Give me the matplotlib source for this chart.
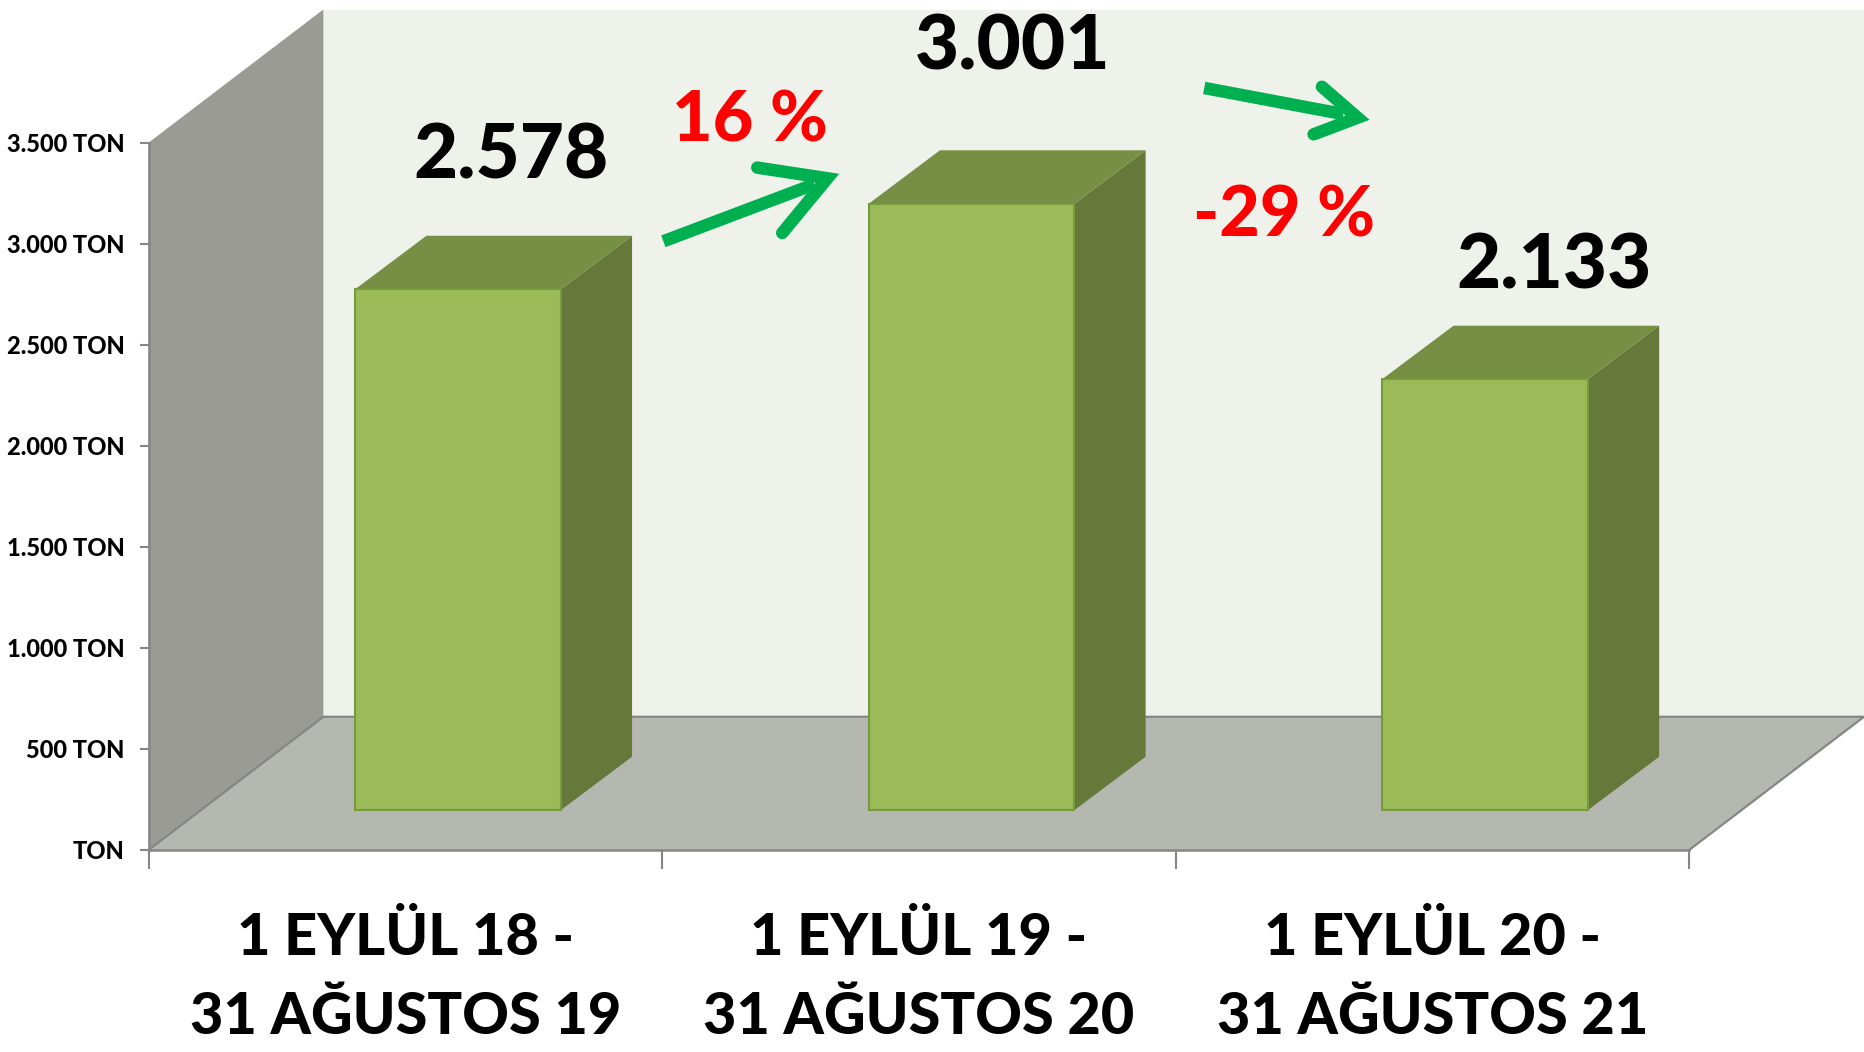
import matplotlib.pyplot as plt
from matplotlib.patches import Polygon
from matplotlib.transforms import Affine2D

categories = ["1 EYLÜL 18 -\n31 AĞUSTOS 19", "1 EYLÜL 19 -\n31 AĞUSTOS 20", "1 EYLÜL 20 -\n31 AĞUSTOS 21"]
values = [2578, 3001, 2133]
y_ticks = [0, 500, 1000, 1500, 2000, 2500, 3000, 3500]
y_labels = ["TON", "500 TON", "1.000 TON", "1.500 TON", "2.000 TON", "2.500 TON", "3.000 TON", "3.500 TON"]
change_labels = ["16 %", "-29 %"]

plt.rcParams['font.family'] = ['Lato', 'DejaVu Sans']

W, H = 1568, 885  # layout numbers below
fig = plt.figure(figsize=(18.64, 10.52), dpi=100)
ax = fig.add_axes([125/W, 1-715/H, (1421-125)/W, (715-120)/H])
ax.set_xlim(0, 3)
ax.set_ylim(0, 3500)
ax.patch.set_visible(False)

# reference pixels -> figure, for the labels and arrows put on by hand
px = Affine2D().scale(1/W, -1/H).translate(0, 1) + fig.transFigure

# walls and floor
wall_dx, wall_dy = 147/432, 112/0.17
grey = '#868686'
def poly(points, color, edge='none', lw=0, z=1):
    ax.add_patch(Polygon(points, closed=True, facecolor=color, edgecolor=edge, linewidth=lw, zorder=z, clip_on=False))

poly([(wall_dx, wall_dy), (wall_dx, 3500+wall_dy), (3+wall_dx, 3500+wall_dy), (3+wall_dx, wall_dy)], '#EFF2EB')
poly([(0, 0), (0, 3500), (wall_dx, 3500+wall_dy), (wall_dx, wall_dy)], '#999B94')
poly([(0, 0), (wall_dx, wall_dy), (3+wall_dx, wall_dy), (3, 0)], '#B5B8B1')
ax.plot([0, wall_dx, 3+wall_dx, 3], [0, wall_dy, wall_dy, 0], color=grey, lw=1.6, clip_on=False, zorder=1.5)

# bars
bar_w = 173/432
bar_left = 173.7/432
bar_base = 33.4/0.17
dx, dy = 60/432, 45/0.17
for i, v in enumerate(values):
    x0 = i + bar_left
    x1 = x0 + bar_w
    top = bar_base + v
    poly([(x1, bar_base), (x1+dx, bar_base+dy), (x1+dx, top+dy), (x1, top)], '#66783A', z=3)
    poly([(x0, top), (x0+dx, top+dy), (x1+dx, top+dy), (x1, top)], '#778E45', z=3)
ax.bar([i + bar_left + bar_w/2 for i in range(len(values))], values, bottom=bar_base, width=bar_w,
       color='#9BBB59', edgecolor='#769A3E', linewidth=1.5, zorder=4, clip_on=False)

# axes
for s in ['top', 'right']:
    ax.spines[s].set_visible(False)
for s in ['left', 'bottom']:
    ax.spines[s].set_color(grey)
    ax.spines[s].set_linewidth(1.8)
    ax.spines[s].set_zorder(5)
ax.set_yticks(y_ticks)
ax.set_yticklabels(y_labels, fontsize=17, fontweight='black', color='black')
ax.tick_params(axis='y', length=6.5, width=1.5, color=grey, pad=11)
ax.set_xticks([0, 1, 2, 3])
ax.set_xticklabels([])
ax.tick_params(axis='x', which='major', length=14, width=1.5, color=grey)
ax.set_xticks([0.5, 1.5, 2.5], minor=True)
ax.set_xticklabels(categories, minor=True, fontsize=41.5, fontweight='black', linespacing=1.6)
ax.tick_params(axis='x', which='minor', length=0, pad=45)

# value labels
value_pos = [(430, 132), (852, 40), (1307, 224)]
for v, (x, y) in zip(values, value_pos):
    ax.text(x, y, f"{v:,}".replace(",", "."), transform=px, ha='center', va='center',
            fontsize=55, fontweight='black', color='black', zorder=6, clip_on=False)

# change labels
change_pos = [(631, 102), (1080, 182)]
for t, (x, y) in zip(change_labels, change_pos):
    ax.text(x, y, t, transform=px, ha='center', va='center', fontsize=50.5, fontweight='black',
            color='#FF0000', zorder=6, clip_on=False)

# arrows
arrow_green = '#00B050'
shafts = [([558, 685], [203, 155]), ([1013, 1130], [74, 96])]
heads = [([637, 696, 658], [141, 150, 196]), ([1112, 1142, 1105], [73, 99, 113])]
for (sx, sy), (hx, hy) in zip(shafts, heads):
    ax.plot(sx, sy, transform=px, color=arrow_green, lw=9, solid_capstyle='butt', zorder=6, clip_on=False)
    ax.plot(hx, hy, transform=px, color=arrow_green, lw=9, solid_capstyle='round', solid_joinstyle='miter',
            zorder=6, clip_on=False)

fig.savefig('out.png', dpi=100)
